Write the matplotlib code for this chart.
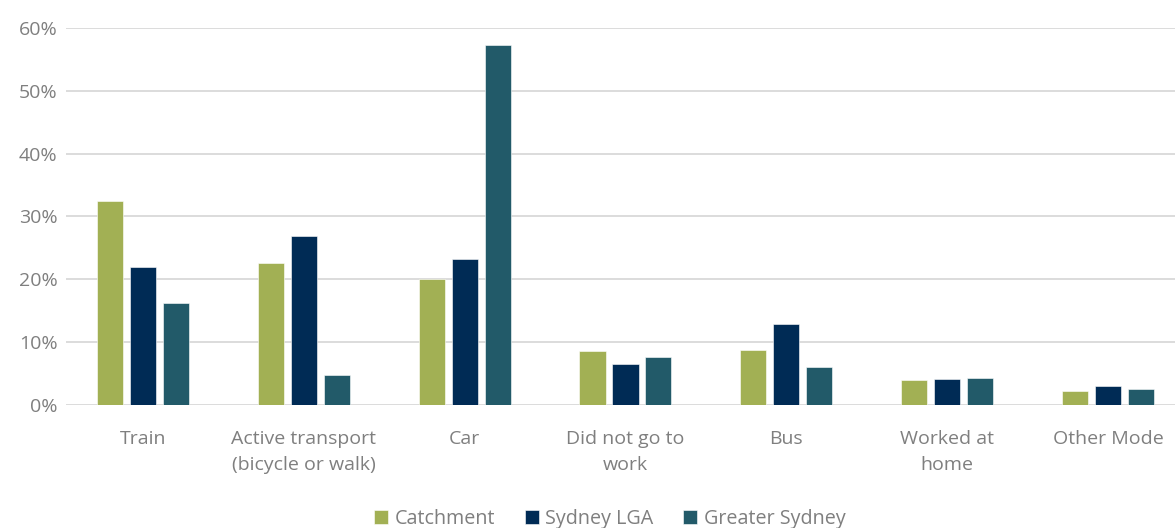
import matplotlib.pyplot as plt
import numpy as np
from matplotlib.ticker import PercentFormatter

plt.rcParams['font.family'] = ['Open Sans', 'DejaVu Sans']

# travel to work mode shares (%)
modes = ["Train", "Active transport\n(bicycle or walk)", "Car", "Did not go to\nwork",
         "Bus", "Worked at\nhome", "Other Mode"]
catchment = [32.5, 22.6, 20.0, 8.6, 8.7, 3.9, 2.2]
sydney_lga = [21.9, 26.9, 23.3, 6.6, 12.9, 4.1, 3.0]
greater_sydney = [16.2, 4.7, 57.3, 7.7, 6.0, 4.3, 2.5]

series = [("Catchment", catchment, "#A2B054"),
          ("Sydney LGA", sydney_lga, "#002B55"),
          ("Greater Sydney", greater_sydney, "#225A69")]

fig = plt.figure(figsize=(11.75, 5.28), dpi=100)
ax = fig.add_axes([66 / 1175, 0.233, 1 - 66 / 1175, 0.714])

x = np.arange(len(modes))
w = 0.162
step = 0.205
for i, (name, vals, col) in enumerate(series):
    ax.bar(x + (i - 1) * step, vals, width=w, color=col, label=name,
           edgecolor='white', linewidth=0.4, zorder=3)

ax.set_ylim(0, 60)
ax.set_yticks(range(0, 61, 10))
ax.yaxis.set_major_formatter(PercentFormatter(decimals=0))
ax.set_xlim(-0.479, 6.417)
ax.set_xticks(x)
ax.set_xticklabels(modes, linespacing=1.6)
ax.grid(axis='y', color='#D9D9D9', linewidth=1.3, zorder=0)
for s in ax.spines.values():
    s.set_visible(False)
ax.tick_params(axis='both', length=0, labelsize=14, labelcolor='#7F7F7F')
ax.tick_params(axis='x', pad=18)
ax.tick_params(axis='y', pad=6)

fig.legend(loc='center', bbox_to_anchor=(0.519, 0.017), ncol=3, frameon=False,
           fontsize=14.2, labelcolor='#7F7F7F', handlelength=0.7, handleheight=0.7,
           handletextpad=0.35, columnspacing=1.5)

fig.savefig("out.png", dpi=100)
